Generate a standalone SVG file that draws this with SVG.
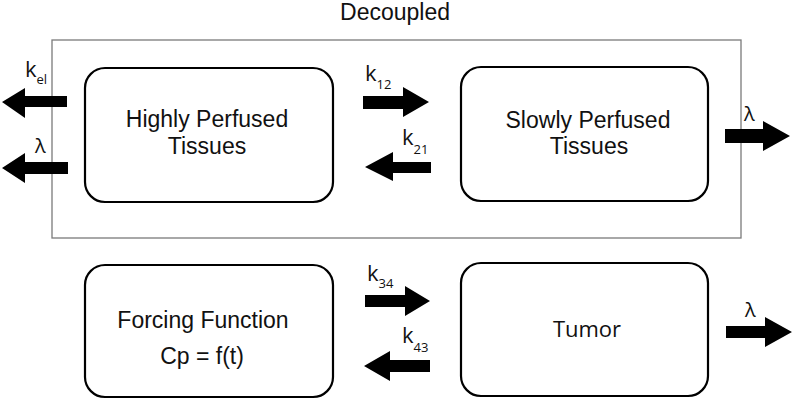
<svg xmlns="http://www.w3.org/2000/svg" width="794" height="400" viewBox="0 0 794 400">
<style>
.box{fill:#fff;stroke:#000;stroke-width:2.2}
.outer{fill:none;stroke:#7a7a7a;stroke-width:1.3}
.arrow{fill:#000;stroke:none}
.lbl{font-family:"Liberation Sans",Arial,sans-serif;font-size:23px;fill:#111;text-anchor:middle}
.os{font-family:"Open Sans","DejaVu Sans",sans-serif;fill:#111}
.k{font-size:22px}
.sub{font-size:13px}
.lam{font-size:20px}
</style>
<rect width="794" height="400" fill="#fff"/>
<g id="decoupled">
<rect class="outer" x="52" y="40" width="689" height="198"/>
<text class="lbl" x="395" y="20" font-size="22">Decoupled</text>
</g>
<g id="highly">
<rect class="box" x="85" y="68" width="248" height="134" rx="20"/>
<text class="lbl" x="207" y="127">Highly Perfused</text>
<text class="lbl" x="207" y="154">Tissues</text>
</g>
<g id="slowly">
<rect class="box" x="461" y="67" width="247" height="134" rx="20"/>
<text class="lbl" x="588" y="128">Slowly Perfused</text>
<text class="lbl" x="589" y="154">Tissues</text>
</g>
<g id="forcing">
<rect class="box" x="85" y="265" width="248" height="132" rx="20"/>
<text class="lbl" x="203" y="328">Forcing Function</text>
<text class="lbl" x="202" y="364">Cp = f(t)</text>
</g>
<g id="tumor">
<rect class="box" x="461" y="263" width="247" height="133" rx="20"/>
<text class="os" x="587" y="337" font-size="22" text-anchor="middle">Tumor</text>
</g>
<g id="connectors">
<polygon class="arrow" points="2,102 25,88 25,96 67,96 67,107 25,107 25,118"/>
<polygon class="arrow" points="2,168 25,153 25,162 68,162 68,174 25,174 25,183"/>
<polygon class="arrow" points="363,96 403,96 403,87 429,102 403,117 403,109 363,109"/>
<polygon class="arrow" points="365,167 393,152 393,162 431,162 431,173 393,173 393,181"/>
<polygon class="arrow" points="725,129 763,129 763,121 790,136 763,151 763,143 725,143"/>
<polygon class="arrow" points="365,295 405,295 405,286 430,301 405,316 405,307 365,307"/>
<polygon class="arrow" points="364,366 390,351 390,360 430,360 430,372 390,372 390,381"/>
<polygon class="arrow" points="726,326 765,326 765,317 792,332 765,347 765,338 726,338"/>
<text class="os k" x="25" y="77">k<tspan class="sub" dy="7">el</tspan></text>
<text class="os lam" x="35" y="153">λ</text>
<text class="os k" x="365" y="81">k<tspan class="sub" dy="8">12</tspan></text>
<text class="os k" x="402" y="145">k<tspan class="sub" dy="9">21</tspan></text>
<text class="os lam" x="744" y="121">λ</text>
<text class="os k" x="367" y="281">k<tspan class="sub" dy="7">34</tspan></text>
<text class="os k" x="402" y="343">k<tspan class="sub" dy="9">43</tspan></text>
<text class="os lam" x="745" y="317">λ</text>
</g>
</svg>
